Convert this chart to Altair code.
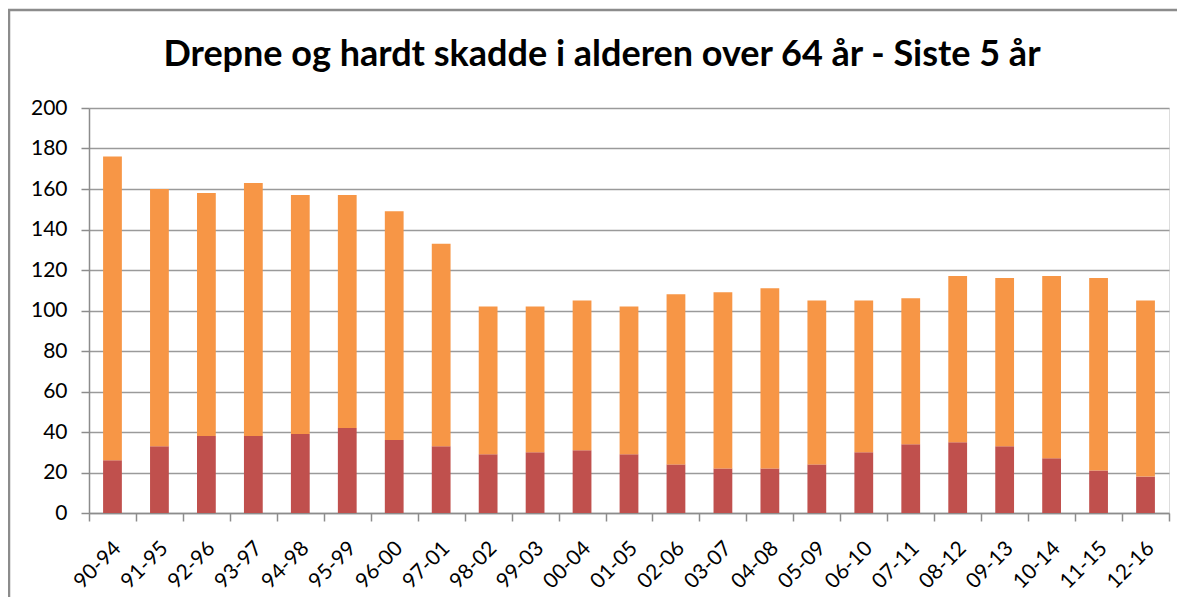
import altair as alt
import pandas as pd

periods = ["90-94", "91-95", "92-96", "93-97", "94-98", "95-99", "96-00", "97-01",
           "98-02", "99-03", "00-04", "01-05", "02-06", "03-07", "04-08", "05-09",
           "06-10", "07-11", "08-12", "09-13", "10-14", "11-15", "12-16"]
drepte = [26, 33, 38, 38, 39, 42, 36, 33, 29, 30, 31, 29, 24, 22, 22, 24, 30, 34, 35, 33, 27, 21, 18]
hardt_skadde = [150, 127, 120, 125, 118, 115, 113, 100, 73, 72, 74, 73, 84, 87, 89, 81, 75, 72, 82, 83, 90, 95, 87]
series_names = ["Drepte", "Hardt skadde"]
series_colors = ["#C0504D", "#F79646"]
title_text = "Drepne og hardt skadde i alderen over 64 år - Siste 5 år"

rows = []
for i, p in enumerate(periods):
    rows.append({"periode": p, "serie": series_names[0], "ord": 0, "antall": drepte[i]})
    rows.append({"periode": p, "serie": series_names[1], "ord": 1, "antall": hardt_skadde[i]})
df = pd.DataFrame(rows)

FONT = "Lato"
W, H = 1080, 405
AXC = "#8C8C8C"

bars = alt.Chart(df).mark_bar(width=alt.RelativeBandSize(0.4)).encode(
    x=alt.X("periode:N", sort=periods,
            scale=alt.Scale(paddingInner=0, paddingOuter=0),
            axis=alt.Axis(title=None, labelAngle=-45, labelAlign="right",
                          labelBaseline="middle", labelFontSize=21, labelFont=FONT,
                          labelColor="#000000", labelPadding=24, labelOffset=5,
                          tickBand="extent",
                          tickSize=8, tickColor=AXC, domainColor=AXC,
                          domainWidth=1.5, tickWidth=1.5, grid=False)),
    y=alt.Y("antall:Q", stack="zero",
            scale=alt.Scale(domain=[0, 200], nice=False),
            axis=alt.Axis(title=None, values=list(range(0, 201, 20)), labelFontSize=21,
                          labelFont=FONT, labelColor="#000000", labelPadding=14,
                          tickSize=8, tickColor=AXC, domainColor=AXC,
                          domainWidth=1.5, tickWidth=1.5, grid=True,
                          gridColor="#9A9A9A", gridWidth=1.5)),
    color=alt.Color("serie:N", scale=alt.Scale(domain=series_names, range=series_colors),
                    legend=None),
    order=alt.Order("ord:Q", sort="ascending"),
)

frame = alt.Chart(pd.DataFrame({"f": [0]})).mark_rect(
    fill="transparent", stroke=AXC, strokeWidth=2.5
).encode(x=alt.value(-80), x2=alt.value(1300), y=alt.value(-98), y2=alt.value(700))

title = alt.Chart(pd.DataFrame({"t": [title_text]})).mark_text(
    font=FONT, fontSize=36, fontWeight="bold", color="#000000",
    align="center", baseline="alphabetic"
).encode(text="t:N", x=alt.value(513), y=alt.value(-42))

chart = alt.layer(frame, bars, title).properties(
    width=W, height=H,
    autosize=alt.AutoSizeParams(type="none"),
    padding={"left": 81, "top": 100, "right": 8, "bottom": 84},
).configure_view(fill="#FFFFCC", stroke=None).configure(background="#FFFFFF")

chart.save("out.html", embed_options={"renderer": "svg", "actions": False})
